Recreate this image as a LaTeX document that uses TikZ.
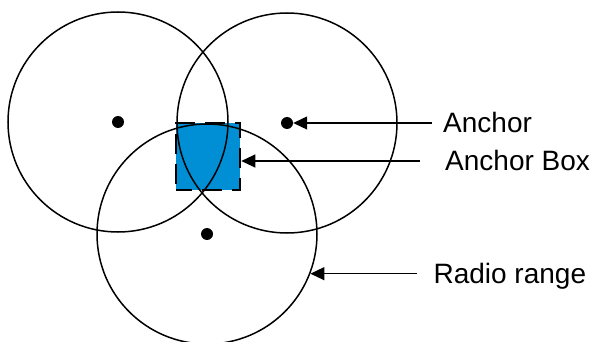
\documentclass[tikz,border=0pt]{standalone}
\usepackage{fontspec}
\setmainfont{Liberation Sans}
\definecolor{boxblue}{RGB}{0,143,213}
\usetikzlibrary{arrows.meta,positioning,calc}

\tikzset{
  radiorange/.style={draw, circle, line width=1.5pt, minimum size=220pt, inner sep=0pt},
  anchorpt/.style={circle, fill=black, minimum size=12pt, inner sep=0pt},
  anchorbox/.style={draw, fill=boxblue, line width=2.6pt, dash pattern=on 20pt off 10pt,
    dash phase=4pt, minimum width=64pt, minimum height=67pt, inner sep=0pt},
  labeltext/.style={anchor=west, inner sep=0pt, font=\fontsize{28}{32}\selectfont,
    text height=20pt, text depth=0pt},
  pointer/.style={line width=1.2pt, -{Triangle[length=14pt,width=13pt]}}
}

\begin{document}
\begin{tikzpicture}[x=1pt, y=-1pt]
    \useasboundingbox (0,0) rectangle (597,342);

    % anchor box under the radio ranges
    \node[anchorbox] (box) at (208,156.5) {};

    % radio ranges
    \node[radiorange] (r1) at (118,122) {};
    \node[radiorange] (r2) at (287,123) {};
    \node[radiorange] (r3) at (207,234) {};

    % anchors
    \node[anchorpt] (a1) at (118,122) {};
    \node[anchorpt] (a2) at (287,123) {};
    \node[anchorpt] (a3) at (207,234) {};

    % labels
    \node[labeltext] (lanchor) at (443,123) {Anchor};
    \node[labeltext] (lbox) at (445,161) {Anchor Box};
    \node[labeltext] (lrange) at ([xshift=123pt]r3.-21) {Radio range};

    \draw[pointer, shorten <=11pt] (lanchor.west) -- (a2);
    \draw[pointer, shorten <=25pt] (lbox.west) -- (lbox.west -| box.east);
    \draw[pointer, shorten <=16pt] (lrange.west) -- (r3.-21);
  \end{tikzpicture}
\end{document}
